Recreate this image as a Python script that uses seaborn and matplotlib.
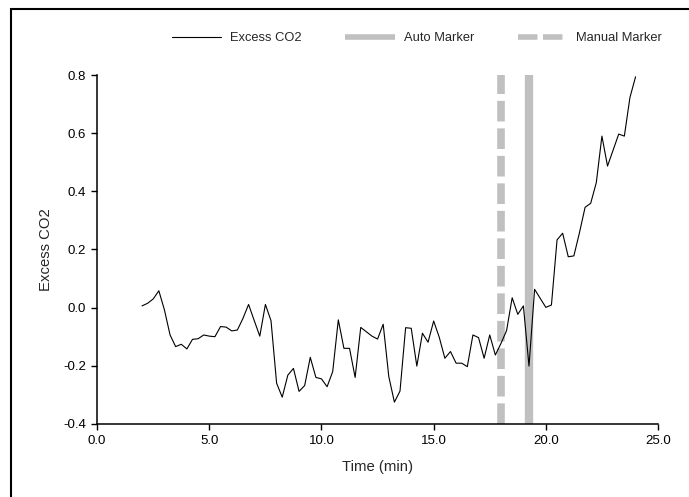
import pandas as pd
import matplotlib
matplotlib.use("Agg")
import matplotlib.pyplot as plt
from matplotlib.patches import Rectangle
from matplotlib.lines import Line2D
import seaborn as sns

# ================================
# Data
# ================================
time_min = [
    2.00, 2.25, 2.50, 2.75, 3.00, 3.25, 3.50, 3.75, 4.00, 4.25, 4.50, 4.75,
    5.00, 5.25, 5.50, 5.75, 6.00, 6.25, 6.50, 6.75, 7.00, 7.25, 7.50, 7.75,
    8.00, 8.25, 8.50, 8.75, 9.00, 9.25, 9.50, 9.75, 10.00, 10.25, 10.50, 10.75,
    11.00, 11.25, 11.50, 11.75, 12.00, 12.25, 12.50, 12.75, 13.00, 13.25, 13.50, 13.75,
    14.00, 14.25, 14.50, 14.75, 15.00, 15.25, 15.50, 15.75, 16.00, 16.25, 16.50, 16.75,
    17.00, 17.25, 17.50, 17.75, 18.00, 18.25, 18.50, 18.75, 19.00, 19.25, 19.50, 19.75,
    20.00, 20.25, 20.50, 20.75, 21.00, 21.25, 21.50, 21.75, 22.00, 22.25, 22.50, 22.75,
    23.00, 23.25, 23.50, 23.75, 24.00,
]
excess_co2 = [
    0.006, 0.015, 0.030, 0.058, -0.008, -0.094, -0.134, -0.126, -0.142, -0.109, -0.107, -0.094,
    -0.098, -0.100, -0.065, -0.067, -0.080, -0.077, -0.037, 0.011, -0.044, -0.098, 0.011, -0.045,
    -0.260, -0.308, -0.232, -0.209, -0.288, -0.268, -0.171, -0.240, -0.245, -0.272, -0.220, -0.042,
    -0.140, -0.140, -0.240, -0.068, -0.083, -0.098, -0.108, -0.057, -0.237, -0.325, -0.287, -0.069,
    -0.071, -0.201, -0.088, -0.119, -0.046, -0.102, -0.174, -0.151, -0.191, -0.191, -0.203, -0.094,
    -0.103, -0.174, -0.094, -0.163, -0.123, -0.079, 0.034, -0.023, 0.006, -0.201, 0.063, 0.032,
    0.001, 0.009, 0.233, 0.256, 0.175, 0.178, 0.258, 0.345, 0.359, 0.430, 0.590, 0.487,
    0.542, 0.597, 0.590, 0.723, 0.794,
]
auto_marker = 19.25
manual_marker = 18.0

x_ticks = [0, 5, 10, 15, 20, 25]
y_ticks = [-0.4, -0.2, 0.0, 0.2, 0.4, 0.6, 0.8]

df = pd.DataFrame({"Time (min)": time_min, "Excess CO2": excess_co2})

# ================================
# Plot
# ================================
sns.set_style("ticks")
plt.rcParams["font.family"] = ["Liberation Sans", "DejaVu Sans"]

marker_color = "#c0c0c0"
dash_pat = (2.7, 0.9)

fig = plt.figure(figsize=(6.89, 4.97), dpi=100)
ax = fig.add_axes([0.141, 0.147, 0.814, 0.702])

ax.axvline(manual_marker, color=marker_color, lw=5.5, dashes=dash_pat,
           dash_capstyle="butt", zorder=1)
ax.axvline(auto_marker, color=marker_color, lw=6, solid_capstyle="butt", zorder=1)
sns.lineplot(data=df, x="Time (min)", y="Excess CO2", color="black", lw=0.8, ax=ax, zorder=3)

ax.set_xlim(0, 25)
ax.set_ylim(-0.4, 0.8)
ax.set_xticks(x_ticks)
ax.set_xticklabels([f"{t:.1f}" for t in x_ticks])
ax.set_yticks(y_ticks)
ax.set_yticklabels([f"{v:.1f}" for v in y_ticks])
ax.tick_params(axis="both", direction="out", length=4, width=1, labelsize=9.5, colors="black", pad=4)
ax.set_xlabel("Time (min)", fontsize=10.7, labelpad=9)
ax.set_ylabel("Excess CO2", fontsize=10.7, labelpad=7)
sns.despine(ax=ax)
for side in ["left", "bottom"]:
    ax.spines[side].set_linewidth(1.1)
    ax.spines[side].set_color("black")

handles = [
    Line2D([], [], color="black", lw=0.8),
    Line2D([], [], color=marker_color, lw=4, solid_capstyle="butt"),
    Line2D([], [], color=marker_color, lw=4, dashes=(3.5, 1.0), dash_capstyle="butt"),
]
fig.legend(handles, ["Excess CO2", "Auto Marker", "Manual Marker"], ncol=3, frameon=False,
           loc="center", bbox_to_anchor=(0.605, 0.923), fontsize=9.3,
           handlelength=3.8, columnspacing=3.4, handletextpad=0.7)

# outer frame (runs off the right and bottom edges like the reference)
fig.patches.append(Rectangle((11 / 689, -0.1), 1.2, 1.1 - 9 / 497, transform=fig.transFigure,
                             fill=False, edgecolor="black", lw=1.5, clip_on=False))

fig.savefig("out.png", dpi=100)
